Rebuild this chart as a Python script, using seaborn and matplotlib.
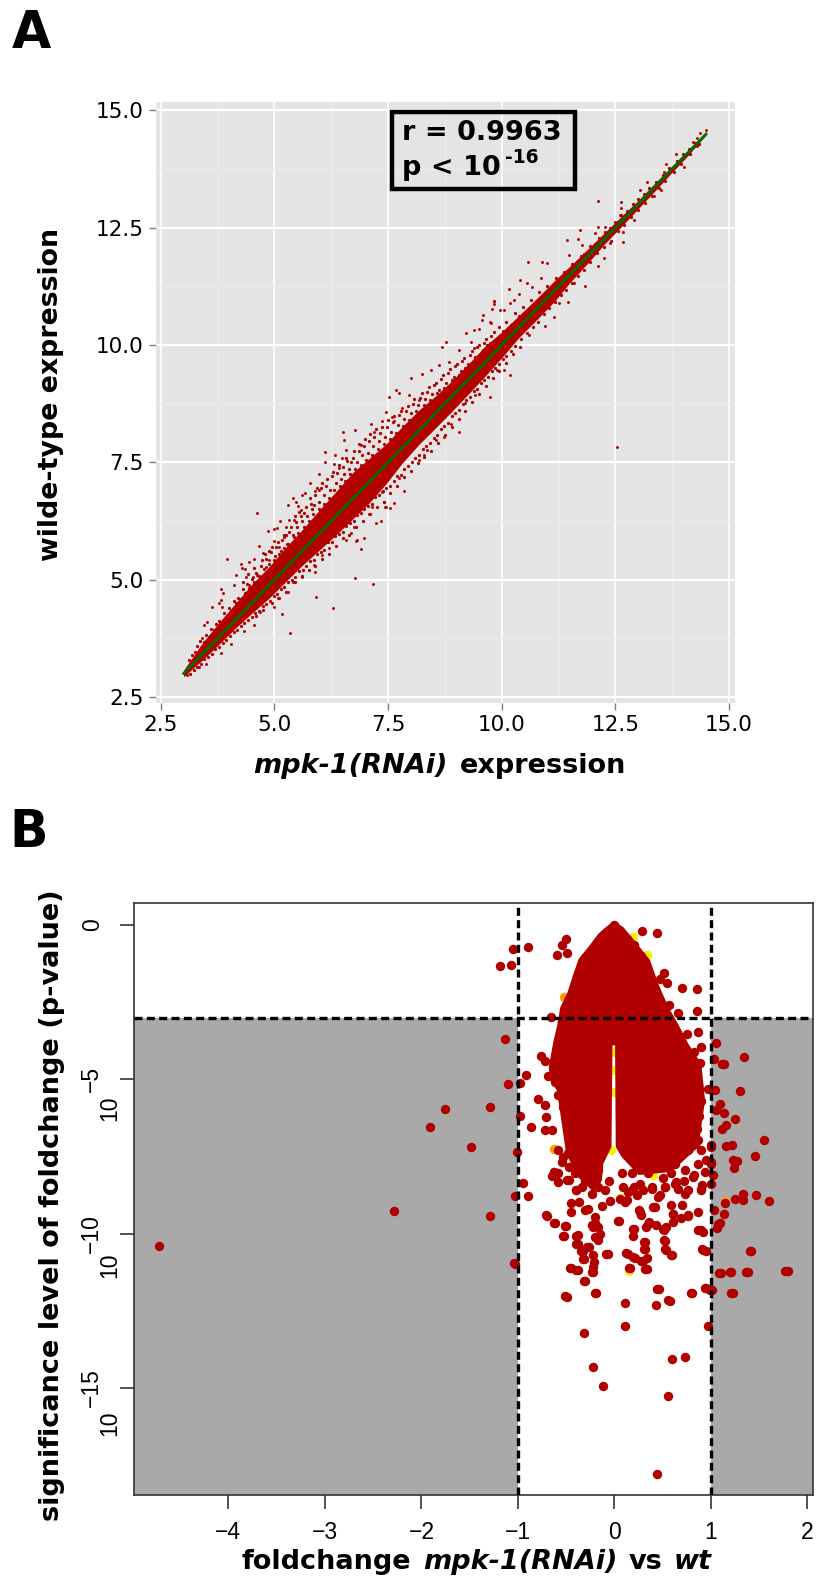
import seaborn as sns
import matplotlib.pyplot as plt
from matplotlib.patches import Rectangle

W, H = 816, 1578

# panel A - solid core of the band read as upper / lower edge, the loose points one by one
band_x = [3.0, 3.42, 3.8, 4.155, 4.5, 4.886, 5.25, 5.617, 6.0, 6.348, 6.71, 7.08, 7.445, 7.8, 8.176, 8.55,
          8.907, 9.27, 9.638, 10.0, 10.37, 10.8, 11.17, 11.5, 11.9, 12.25, 12.63, 13.0, 13.36, 13.7, 14.1, 14.5]
band_upper = [3.07, 3.66, 4.11, 4.51, 4.9, 5.28, 5.69, 6.07, 6.5, 6.87, 7.27, 7.58, 7.88, 8.25, 8.61, 8.92,
              9.24, 9.6, 9.98, 10.28, 10.62, 11.02, 11.38, 11.68, 12.05, 12.38, 12.74, 13.08, 13.44, 13.77, 14.15, 14.52]
band_lower = [2.93, 3.29, 3.64, 3.98, 4.28, 4.61, 4.96, 5.31, 5.64, 5.95, 6.28, 6.63, 7.03, 7.47, 7.88, 8.24,
              8.59, 8.96, 9.34, 9.73, 10.15, 10.57, 10.94, 11.33, 11.75, 12.14, 12.52, 12.9, 13.27, 13.63, 14.04, 14.48]
fit_x = [3.0, 14.5]
fit_y = [3.0, 14.5]

a_x = [4.62, 3.95, 4.16, 3.83, 3.86, 4.10, 3.62, 3.77, 3.83, 3.85, 3.45, 3.52, 3.4, 4.26, 4.29, 4.36, 4.45, 4.54,
       4.65, 4.75, 4.85, 4.99, 5.13, 4.98, 5.05, 5.29, 5.41, 5.6, 5.79, 5.98, 5.68, 5.89, 5.98, 5.47, 5.52, 5.58,
       5.43, 5.32, 5.25, 5.22, 5.1, 4.89, 4.81, 4.52, 4.37, 4.45,
       6.77, 7.16, 5.92, 6.28, 5.16, 5.35, 6.91, 6.97, 7.34, 7.23, 7.55, 7.44, 7.41, 6.82, 6.79, 6.57, 6.68, 6.75,
       7.07, 6.21, 6.05, 5.87, 5.89, 5.6, 5.4, 5.29, 5.07, 5.0, 4.69, 4.56, 4.32, 4.05, 3.83, 3.5, 3.35, 3.07,
       7.68, 8.01, 7.51, 7.74, 8.25, 8.44, 8.63, 8.68, 8.77, 8.83, 9.05, 9.21, 9.4, 9.49, 9.58, 9.84, 9.57, 9.97,
       9.76, 9.32, 9.38, 8.18, 7.96, 7.81, 7.45, 7.37, 7.12, 6.78, 6.5, 6.53, 6.57, 6.11, 6.33, 6.11, 6.3, 6.9,
       7.19, 7.59, 7.63, 6.49, 6.42,
       10.19, 10.05, 9.75, 9.07, 8.72, 8.89, 7.85, 7.62, 7.45, 7.74, 8.19, 8.29, 8.36, 8.56, 9.2, 9.42, 9.89,
       10.59, 7.15, 7.37,
       14.5, 14.37, 14.3, 14.2, 14.3, 14.15, 14.02, 13.84, 13.62, 13.57, 13.51, 13.2, 13.05, 13.35, 12.11, 12.63,
       12.62, 12.6, 12.9, 12.66, 12.66, 11.72, 12.12, 12.27, 11.43, 11.67, 12.05, 12.39, 12.26, 12.12, 11.84,
       10.57, 10.89, 11.0, 11.49, 11.76, 11.45, 11.6, 11.25, 11.14, 10.95, 10.86, 10.4, 10.15, 10.55, 10.66,
       10.37, 9.83, 9.82, 9.78, 10.04, 10.19, 10.26, 9.75, 12.54]
a_y = [6.43, 5.45, 5.09, 4.81, 4.72, 4.88, 4.42, 4.51, 4.57, 4.41, 4.04, 4.1, 3.75, 5.33, 5.24, 5.22, 5.37, 5.45,
       5.71, 5.56, 6.04, 5.82, 6.25, 6.08, 6.11, 6.59, 6.74, 6.8, 7.07, 7.25, 6.85, 6.89, 6.92, 6.66, 6.57, 6.48,
       6.27, 6.27, 6.13, 5.91, 5.7, 5.42, 5.28, 5.06, 5.06, 4.88,
       5.03, 4.9, 4.64, 4.4, 4.27, 3.87, 5.66, 5.89, 6.25, 6.2, 6.52, 6.54, 6.65, 5.84, 5.82, 5.84, 6.0, 6.13,
       6.4, 5.67, 5.52, 5.31, 5.17, 5.05, 4.96, 4.74, 4.6, 4.42, 4.32, 4.03, 3.9, 3.64, 3.43, 3.2, 3.13, 2.97,
       9.04, 9.29, 8.89, 8.97, 9.39, 9.47, 9.57, 9.96, 10.06, 9.64, 9.89, 10.26, 10.32, 10.35, 10.64, 10.94, 10.53,
       10.74, 10.46, 10.06, 9.93, 8.83, 8.93, 8.65, 8.58, 8.37, 8.32, 8.18, 8.14, 7.98, 7.76, 7.71, 7.66, 7.5, 7.47,
       7.87, 8.15, 8.47, 8.37, 7.59, 7.37,
       9.37, 9.47, 8.89, 8.15, 8.04, 8.32, 6.88, 6.64, 6.55, 7.16, 7.54, 7.66, 7.76, 7.98, 8.76, 8.93, 9.47,
       10.21, 6.55, 6.87,
       14.58, 14.51, 14.4, 14.33, 14.24, 14.06, 13.8, 14.06, 13.85, 13.69, 13.3, 13.48, 13.3, 13.17, 13.07, 13.05,
       12.91, 12.77, 12.66, 12.4, 12.2, 12.44, 12.52, 12.52, 12.24, 12.26, 12.38, 12.18, 11.85, 11.68, 11.26,
       11.77, 11.77, 11.74, 11.92, 12.13, 10.92, 11.31, 10.89, 10.6, 10.4, 11.42, 11.38, 11.2, 11.31, 11.24,
       11.08, 10.94, 10.87, 10.77, 10.75, 10.9, 10.96, 10.5, 7.82]

# fringe of the band, estimated along both sides
fringe_upper = [(3.12, 3.28), (3.18, 3.4), (3.25, 3.45), (3.3, 3.58), (3.37, 3.7), (3.44, 3.68), (3.5, 3.82),
                (3.55, 3.78), (3.6, 3.95), (3.66, 3.93), (3.72, 4.05), (3.78, 4.12), (3.84, 4.08), (3.9, 4.28),
                (3.96, 4.22), (4.0, 4.4), (4.05, 4.33), (4.1, 4.55), (4.15, 4.5), (4.2, 4.62), (4.25, 4.58),
                (4.3, 4.8), (4.35, 4.72), (4.4, 4.9), (4.45, 4.83), (4.5, 5.02), (4.55, 4.95), (4.6, 5.15),
                (4.66, 5.08), (4.7, 5.3), (4.76, 5.22), (4.82, 5.45), (4.88, 5.33), (4.93, 5.6), (5.0, 5.42),
                (5.04, 5.7), (5.1, 5.55), (5.16, 5.85), (5.2, 5.68), (5.26, 5.95), (5.3, 5.75), (5.36, 6.12),
                (5.42, 5.9), (5.47, 6.22), (5.52, 6.0), (5.58, 6.35), (5.64, 6.12), (5.7, 6.55), (5.75, 6.25),
                (5.8, 6.62), (5.85, 6.4), (5.9, 6.8), (5.97, 6.5), (6.02, 6.95), (6.08, 6.62), (6.13, 7.0),
                (6.2, 6.75), (6.26, 7.2), (6.32, 6.9), (6.38, 7.28), (6.44, 7.0), (6.5, 7.4), (6.55, 7.1),
                (6.6, 7.52), (6.66, 7.25), (6.72, 7.6), (6.78, 7.35), (6.85, 7.75), (6.9, 7.45), (6.96, 7.85),
                (7.02, 7.55), (7.08, 7.95), (7.14, 7.65), (7.2, 8.05), (7.27, 7.78), (7.33, 8.12), (7.4, 7.9),
                (7.47, 8.25), (7.54, 8.0), (7.6, 8.35), (7.68, 8.12), (7.75, 8.5), (7.82, 8.28), (7.9, 8.6),
                (7.97, 8.4), (8.05, 8.75), (8.12, 8.6), (8.2, 8.88), (8.28, 8.72), (8.35, 9.0), (8.43, 8.82),
                (8.5, 9.15), (8.58, 8.98), (8.66, 9.28), (8.74, 9.08), (8.82, 9.4), (8.9, 9.25), (8.98, 9.55),
                (9.05, 9.35), (9.13, 9.65), (9.2, 9.52), (9.3, 9.78), (9.38, 9.62), (9.45, 9.95), (9.53, 9.78),
                (9.6, 10.05), (9.68, 10.0), (9.76, 10.2), (9.85, 10.1), (9.93, 10.38), (10.02, 10.3), (10.1, 10.5),
                (10.2, 10.42), (10.3, 10.68), (10.38, 10.62), (10.47, 10.8), (10.56, 10.72), (10.65, 10.95),
                (10.75, 10.88), (10.83, 11.12), (10.92, 11.05), (11.0, 11.25), (11.1, 11.22), (11.2, 11.42),
                (11.28, 11.4), (11.36, 11.55), (11.45, 11.56), (11.55, 11.72), (11.65, 11.76), (11.75, 11.9),
                (11.82, 11.94), (11.95, 12.1), (12.05, 12.16), (12.15, 12.28), (12.28, 12.4), (12.38, 12.5),
                (12.5, 12.63), (12.62, 12.76), (12.75, 12.86), (12.88, 13.0), (13.0, 13.1), (13.12, 13.22),
                (13.25, 13.34), (13.4, 13.48), (13.55, 13.62), (13.68, 13.78), (13.85, 13.92), (13.98, 14.06),
                (14.12, 14.18), (14.25, 14.3)]
fringe_upper2 = [(4.3, 4.95), (4.42, 5.12), (4.55, 5.25), (4.62, 5.1), (4.72, 5.42), (4.8, 5.55), (4.87, 5.62),
                 (4.95, 5.7), (5.02, 5.5), (5.08, 5.8), (5.14, 5.62), (5.2, 5.95), (5.27, 5.75), (5.33, 6.02),
                 (5.4, 5.95), (5.45, 6.35), (5.5, 6.12), (5.55, 6.45), (5.6, 6.25), (5.66, 6.42), (5.72, 6.35),
                 (5.78, 6.75), (5.83, 6.5), (5.88, 6.6), (5.93, 6.95), (5.99, 6.65), (6.05, 7.05), (6.1, 6.8),
                 (6.16, 7.15), (6.22, 6.9), (6.29, 7.3), (6.35, 7.05), (6.41, 7.45), (6.47, 7.15), (6.53, 7.25),
                 (6.58, 7.6), (6.63, 7.35), (6.69, 7.5), (6.75, 7.75), (6.81, 7.5), (6.87, 7.9), (6.93, 7.65),
                 (6.99, 8.0), (7.05, 7.7), (7.11, 8.1), (7.17, 7.85), (7.24, 8.2), (7.3, 7.95), (7.36, 8.25),
                 (7.43, 8.05), (7.5, 8.4), (7.57, 8.15), (7.64, 8.48), (7.71, 8.3), (7.79, 8.6), (7.86, 8.42),
                 (7.93, 8.7), (8.0, 8.55), (8.08, 8.85), (8.16, 8.72), (8.24, 8.98), (8.32, 8.85), (8.4, 9.1),
                 (8.47, 8.95), (8.55, 9.2), (8.62, 9.05), (8.7, 9.35), (8.78, 9.2), (8.86, 9.48), (8.94, 9.32),
                 (9.02, 9.6), (9.1, 9.45), (9.18, 9.72), (9.26, 9.6), (9.34, 9.88), (9.42, 9.75), (9.5, 10.0),
                 (9.58, 9.9), (9.66, 10.12), (9.74, 10.05), (9.82, 10.28)]
fringe_lower = [(3.14, 3.0), (3.22, 3.08), (3.3, 3.14), (3.38, 3.2), (3.46, 3.3), (3.54, 3.36), (3.62, 3.42),
                (3.7, 3.52), (3.78, 3.56), (3.86, 3.66), (3.94, 3.72), (4.02, 3.8), (4.1, 3.88), (4.18, 3.92),
                (4.26, 4.02), (4.34, 4.08), (4.42, 4.14), (4.5, 4.2), (4.58, 4.3), (4.66, 4.34), (4.74, 4.44),
                (4.82, 4.48), (4.9, 4.55), (4.98, 4.65), (5.06, 4.7), (5.14, 4.8), (5.22, 4.84), (5.3, 4.95),
                (5.38, 5.0), (5.46, 5.06), (5.54, 5.18), (5.62, 5.2), (5.7, 5.3), (5.78, 5.4), (5.86, 5.42),
                (5.94, 5.55), (6.02, 5.6), (6.1, 5.64), (6.18, 5.8), (6.26, 5.8), (6.34, 5.92), (6.42, 5.98),
                (6.5, 6.02), (6.58, 6.15), (6.66, 6.2), (6.74, 6.24), (6.82, 6.38), (6.9, 6.42), (6.98, 6.5),
                (7.06, 6.58), (7.14, 6.62), (7.22, 6.76), (7.3, 6.8), (7.38, 6.88), (7.46, 6.95), (7.54, 7.0),
                (7.62, 7.1), (7.7, 7.2), (7.78, 7.22), (7.86, 7.36), (7.94, 7.42), (8.02, 7.5), (8.1, 7.6),
                (8.18, 7.65), (8.26, 7.78), (8.34, 7.84), (8.42, 7.92), (8.5, 8.02), (8.58, 8.08), (8.66, 8.2),
                (8.74, 8.28), (8.82, 8.34), (8.9, 8.48), (8.98, 8.55), (9.06, 8.62), (9.14, 8.75), (9.22, 8.82),
                (9.3, 8.9), (9.38, 9.02), (9.46, 9.06), (9.54, 9.18), (9.62, 9.25), (9.7, 9.32), (9.78, 9.45),
                (9.86, 9.5), (9.94, 9.6), (10.02, 9.7), (10.1, 9.76), (10.2, 9.88), (10.3, 9.98), (10.42, 10.12),
                (10.55, 10.25), (10.68, 10.38), (10.8, 10.5), (10.92, 10.66), (11.05, 10.78), (11.18, 10.92),
                (11.3, 11.06), (11.42, 11.18), (11.55, 11.32), (11.68, 11.46), (11.8, 11.6), (11.95, 11.76),
                (12.1, 11.95), (12.25, 12.08), (12.4, 12.22), (12.55, 12.42), (12.7, 12.55), (12.85, 12.72),
                (13.0, 12.88), (13.15, 13.02), (13.3, 13.18), (13.45, 13.35), (13.6, 13.5), (13.78, 13.68),
                (13.95, 13.86), (14.15, 14.06), (14.35, 14.28)]
fringe_lower2 = [(4.6, 4.22), (4.75, 4.36), (4.95, 4.5), (5.1, 4.62), (5.25, 4.74), (5.45, 4.95), (5.6, 5.08),
                 (5.75, 5.2), (5.9, 5.3), (6.05, 5.45), (6.2, 5.55), (6.35, 5.72), (6.5, 5.88), (6.65, 5.95),
                 (6.8, 6.12), (6.95, 6.25), (7.1, 6.4), (7.25, 6.55), (7.4, 6.65), (7.55, 6.85), (7.7, 7.0),
                 (7.85, 7.18), (8.0, 7.32), (8.15, 7.48), (8.3, 7.62), (8.45, 7.75), (8.6, 7.92), (8.75, 8.08),
                 (8.9, 8.25), (9.05, 8.42), (9.2, 8.6), (9.35, 8.78), (9.5, 8.95), (9.65, 9.12), (9.8, 9.3),
                 (9.95, 9.45), (10.1, 9.62), (10.25, 9.8), (10.4, 9.95)]

# panel B - solid dome outline, then the separate points
dome_x = [-.01, -.11, -.166, -.27, -.37, -.424, -.49, -.56, -.596, -.63, -.68, -.665, -.596, -.56, -.53, -.5,
          -.38, -.2, -.13, -.114, -.03, -.02, .007, .014, .076, .25, .59, .87, .90, .94, .90, .765, .66, .56,
          .455, .37, .21, .09]
dome_y = [.13, -.12, -.28, -.71, -1.09, -1.58, -2.22, -2.66, -3.3, -3.74, -4.6, -5.03, -5.36, -6.11, -6.76, -7.41,
          -8.16, -8.7, -8.27, -7.73, -7.19, -3.9, -3.9, -7.19, -7.52, -8.1, -8.0, -7.19, -6.54, -5.68, -4.49,
          -3.84, -3.2, -2.66, -1.9, -1.14, -.5, -.06]
rim_pts = [(0, 0), (-.06, -.2), (-.12, -.45), (-.2, -.8), (-.28, -1.0), (-.33, -1.3), (-.37, -1.65), (-.42, -2.1),
           (-.47, -2.4), (-.51, -2.8), (-.54, -3.3), (-.57, -3.8), (-.6, -4.3), (-.63, -4.7), (-.62, -5.1),
           (-.58, -5.5), (-.53, -5.9), (-.5, -6.3), (-.44, -6.7), (-.42, -7.2), (-.36, -7.6), (-.28, -8.1), (-.2, -8.4),
           (.06, -.2), (.13, -.45), (.2, -.65), (.28, -1.0), (.33, -1.4), (.38, -1.75), (.42, -2.1), (.47, -2.5),
           (.53, -2.9), (.6, -3.3), (.65, -3.65), (.72, -4.0), (.8, -4.4), (.86, -4.8), (.88, -5.3), (.9, -5.7),
           (.88, -6.2), (.86, -6.6), (.84, -7.1)]
lobe_pts = [(-.63, -8.0), (-.58, -8.05), (-.65, -8.14), (-.545, -7.68), (-.49, -8.27), (-.41, -8.05), (-.40, -8.59),
            (-.34, -8.49), (-.235, -8.7), (-.166, -8.49), (-.097, -8.59), (-.06, -8.29), (.075, -8.05), (.09, -8.49),
            (.127, -8.92), (.18, -8.59), (.23, -8.76), (.265, -8.38), (.385, -8.54), (.47, -8.76), (.52, -8.49),
            (.59, -8.05), (.64, -8.32), (.66, -8.54), (.765, -8.57), (.83, -8.11), (.90, -8.54), (.94, -8.0),
            (.87, -7.73), (1.0, -7.14), (1.0, -7.68), (.91, -8.43), (-.58, -7.3), (-.475, -7.84), (-.53, -7.51),
            (.63, -7.73), (.35, -8.05), (.18, -8.05), (-.166, -7.95), (-.34, -7.95), (.73, -7.95), (.765, -7.3),
            (.9, -7.3), (.87, -6.97), (.72, -8.3), (.5, -8.2), (.3, -8.6), (-.3, -8.3), (-.48, -7.4), (.95, -7.6)]

b_x = [.29, .44, -.50, -.54, -.59, -.49, -.90, -1.05, -1.07, -1.19, .51, .47, .55, .70, .86, .86, .66, .57, -.655,
       -1.13, -.76, -.72, -.92, -.975, -1.10, -.69, -.79, -.72, -.975, -.865, -.71, -.72, -.65, -1.01, 1.05, 1.34,
       1.14, 1.11, 1.03, 1.30, 1.09, 1.14, 1.05, 1.25, 1.16, 1.12, 1.22, 1.16, 1.23, 1.27, 1.24, -.95, -.90, -1.03,
       1.33, 1.25, 1.33, 1.15, 1.03, 1.14, -.71, -.63, -.51, -.45, -.45, .04, 1.07, 1.0, 1.02, 1.0, 1.0, .90, .87,
       .75, .83, .885, .87, 1.04, .97, -.63, -.58, -.475, -.40, -.37, -.30, -.13, -.05, -.20, -.20, -.235, .11, .25,
       .42, .28, .59, .61, .70, .765, .87, .35, .20, .455, .73, .90, .52, .63, .815, .145, .06, .20, .385, .505,
       -.53, -.40, -.40, -.28, -.345, -.33, -.22, -.21, -.22, -.23, -.46, -.40, -.31, -.51, -.20, .045, .19, .19,
       .31, .31, .12, .19, -.09, .34, .28, .32, .15, .51, .52, .585, .44, .56, .79, .94, .995, 1.21, .91, .95,
       1.405, 1.08, 1.20, 1.36, 1.77, -1.04, 1.55, 1.46, 1.47, 1.60, 1.06, 1.09, .87, .92, .765, .69, .61, .54,
       .51, .36, .33, .43, .61, .40, .265, -.27, -.22, -.166, -.15, -.20, -.166,
       -4.72, -2.28, -1.29, -1.03, 1.80, 1.42, 1.38, 1.21, 1.10, 1.23, 1.01, .95, .965, .46, .80, .58, .43, .11,
       -.19, -.49, .11, -.31, .60, .73, -.22, -.12, .56, .44, -.30, -.70, -.62, -.50, -.52, -.38, -.38, -.33,
       -.26, -.32, -.45, -.38, -.22, -.07, .14, .21, .30, .335, .16, .32, .32, .52, .53, .60, .92, .90,
       -1.29, -1.91, -1.76, -1.49]
b_y = [-.19, -.25, -.45, -.63, -.97, -.91, -.72, -.78, -1.3, -1.34, -1.55, -1.74, -1.88, -2.03, -2.07, -2.79, -2.85,
       -2.58, -2.98, -3.69, -4.24, -4.41, -4.86, -5.11, -5.15, -4.9, -5.63, -5.84, -6.2, -6.54, -6.22, -6.64, -6.65,
       -7.35, -3.82, -4.28, -4.51, -4.51, -4.34, -5.37, -5.79, -6.09, -6.0, -6.27, -6.49, -6.62, -7.14, -7.16, -7.6,
       -7.64, -7.87, -8.35, -8.78, -8.78, -8.72, -8.89, -8.92, -9.0, -9.24, -9.37, -9.41, -9.64, -9.74, -9.31, -9.0,
       -9.59, -9.68, -8.38, -8.11, -7.73, -7.19, -3.95, -3.47, -3.52, -4.11, -4.46, -5.14, -5.36, -5.3, -8.0, -8.33,
       -8.27, -8.6, -8.97, -9.24, -9.11, -8.94, -9.46, -9.67, -9.73, -8.97, -9.24, -9.14, -9.41, -9.08, -9.35, -9.08,
       -9.41, -9.3, -9.68, -9.84, -8.81, -8.7, -8.6, -8.49, -8.38, -8.16, -8.65, -8.87, -8.49, -8.49, -9.84,
       -10.08, -10.06, -10.32, -10.44, -10.56, -10.82, -10.68, -10.92, -11.08, -11.24, -11.1, -11.19, -11.53, -12.02,
       -11.91, -9.59, -9.86, -10.07, -10.27, -10.5, -10.63, -10.75, -10.66, -10.79, -10.89, -11.15, -11.11, -10.21,
       -10.5, -10.7, -11.79, -12.14, -11.91, -11.75, -11.83, -11.91, -10.5, -10.56, -10.55, -11.28, -11.24, -11.23,
       -11.22, -10.96, -6.97, -7.47, -8.76, -8.93, -9.81, -9.67, -9.87, -9.94, -9.43, -9.48, -9.62, -9.78, -9.89,
       -9.63, -9.78, -9.73, -9.35, -9.13, -9.3, -9.19, -9.78, -9.78, -10.0, -10.1, -10.19,
       -10.41, -9.25, -9.42, -10.97, -11.22, -10.55, -11.23, -11.24, -11.28, -11.91, -11.84, -11.75, -13.0, -11.8,
       -11.91, -12.17, -12.32, -12.26, -11.91, -12.04, -12.98, -13.21, -14.05, -14.0, -14.33, -14.95, -15.26, -17.78,
       -11.54, -9.42, -9.64, -9.75, -10.09, -10.05, -10.32, -10.56, -10.43, -10.82, -11.11, -11.19, -11.24, -10.66,
       -10.65, -10.78, -10.9, -11.16, -11.12, -10.51, -10.27, -10.24, -10.53, -10.7, -10.52, -9.89,
       -5.9, -6.55, -5.95, -7.2]

yellow_x = [-.01, -.01, -.005, .34, .19, -.03, .40, .06, .15]
yellow_y = [-4.1, -4.7, -5.4, -.98, -.39, -7.3, -8.11, -8.85, -11.2]
orange_x = [-.52, .63, .78, -.63, .80, 1.15, .01]
orange_y = [-2.33, -3.74, -5.9, -7.25, -6.65, -8.95, -.02]

b_xticks = [-4, -3, -2, -1, 0, 1, 2]
b_xlabels = ['\u22124', '\u22123', '\u22122', '\u22121', '0', '1', '2']
b_yticks = [0, -5, -10, -15]
b_exponents = ['\u22125', '\u221210', '\u221215']

RED = '#b30000'


def axes_box(left, top, right, bottom):
    return [left / W, 1 - bottom / H, (right - left) / W, (bottom - top) / H]


def put(x, y, s, **kw):
    # place text by pixel position on the page
    fig.text(x / W, 1 - y / H, s, **kw)


sns.set_theme(style='darkgrid')
plt.rcParams['font.family'] = ['DejaVu Sans']
plt.rcParams['text.color'] = 'black'

fig = plt.figure(figsize=(W / 100, H / 100), dpi=100, facecolor='white')

# ---- panel A
ax = fig.add_axes(axes_box(156.1, 101.7, 734.7, 702.7))
ax.set_facecolor('#e4e4e4')
ax.fill_between(band_x, band_lower, band_upper, color=RED, linewidth=0, zorder=3)
sns.scatterplot(x=a_x, y=a_y, ax=ax, color=RED, s=4.5, linewidth=0, zorder=3)
for pts in (fringe_upper, fringe_upper2, fringe_lower, fringe_lower2):
    sns.scatterplot(x=[p[0] for p in pts], y=[p[1] for p in pts], ax=ax, color=RED, s=5.5, linewidth=0, zorder=3)
sns.lineplot(x=fit_x, y=fit_y, ax=ax, color='#006e00', linewidth=2.0, zorder=4)
ax.set_xlim(2.397, 15.125)
ax.set_ylim(2.379, 15.183)
major = [2.5, 5, 7.5, 10, 12.5, 15]
minor = [3.75, 6.25, 8.75, 11.25, 13.75]
ax.set_xticks(major)
ax.set_yticks(major)
ax.set_xticks(minor, minor=True)
ax.set_yticks(minor, minor=True)
ax.set_xticklabels(['2.5', '5.0', '7.5', '10.0', '12.5', '15.0'])
ax.set_yticklabels(['2.5', '5.0', '7.5', '10.0', '12.5', '15.0'])
ax.grid(which='major', axis='x', color='white', linewidth=1.2)
ax.grid(which='major', axis='y', color='white', linewidth=1.6)
ax.grid(which='minor', color='#ebebeb', linewidth=0.9)
ax.tick_params(which='major', length=5, width=1, color='#7f7f7f', labelsize=15.5, labelcolor='black',
               bottom=True, left=True, pad=4)
ax.tick_params(which='minor', length=0)
for s in ax.spines.values():
    s.set_visible(False)

fig.add_artist(Rectangle((392 / W, 1 - 188.5 / H), 183 / W, 76 / H, transform=fig.transFigure,
                         fill=False, edgecolor='black', linewidth=3.2, zorder=10))
put(402, 133, 'r = 0.9963', fontsize=19.5, fontweight='bold', va='center', ha='left', zorder=11)
put(402, 175, 'p < 10', fontsize=19.5, fontweight='bold', va='baseline', ha='left', zorder=11)
put(505, 163, '-16', fontsize=13.5, fontweight='bold', va='baseline', ha='left', zorder=11)

put(51, 394, 'wilde-type expression', fontsize=19.3, fontweight='bold', rotation=90, va='center', ha='center')
put(253.5, 766, 'mpk-1(RNAi)', fontsize=19.5, fontweight='bold', style='italic', va='center', ha='left')
put(626.5, 766, 'expression', fontsize=19.5, fontweight='bold', va='center', ha='right')

# ---- panel B
bx = fig.add_axes(axes_box(133.7, 902.7, 812.7, 1495))
bx.set_facecolor('white')
bx.grid(False)
bx.set_xlim(-4.981, 2.055)
bx.set_ylim(-18.47, 0.726)
bx.axvspan(-4.981, -1, ymax=(-3 + 18.47) / (18.47 + 0.726), color='#a9a9a9', linewidth=0, zorder=1)
bx.axvspan(1, 2.055, ymax=(-3 + 18.47) / (18.47 + 0.726), color='#a9a9a9', linewidth=0, zorder=1)

sns.scatterplot(x=yellow_x, y=yellow_y, ax=bx, color='#ffee00', s=46, linewidth=0, zorder=2)
sns.scatterplot(x=orange_x, y=orange_y, ax=bx, color='#ffa000', s=46, linewidth=0, zorder=2)
bx.fill(dome_x, dome_y, color='#b00000', linewidth=0, zorder=3)
sns.scatterplot(x=b_x, y=b_y, ax=bx, color='#b00000', s=46, linewidth=0, zorder=3)
for pts in (rim_pts, lobe_pts):
    sns.scatterplot(x=[p[0] for p in pts], y=[p[1] for p in pts], ax=bx, color='#b00000', s=46, linewidth=0, zorder=3)

for v in (-1, 1):
    bx.axvline(v, color='black', linewidth=2.4, dashes=(2.4, 1.3), zorder=5)
bx.axhline(-3, color='black', linewidth=2.4, dashes=(2.4, 1.3), zorder=5)

bx.set_xticks(b_xticks)
bx.set_xticklabels(b_xlabels, family='Liberation Sans', fontsize=16.5)
bx.set_yticks(b_yticks)
bx.set_yticklabels([])
bx.tick_params(axis='both', length=10, width=1.1, color='#222222', labelcolor='black', pad=9, bottom=True, left=True)
for s in bx.spines.values():
    s.set_visible(True)
    s.set_color('#333333')
    s.set_linewidth(1.2)

# R style rotated exponent labels
ytr = bx.get_yaxis_transform()
txt = dict(xycoords=ytr, textcoords='offset pixels', rotation=90, va='center', ha='center',
           family='Liberation Sans', fontsize=16.5, annotation_clip=False)
bx.annotate('0', (0, b_yticks[0]), xytext=(-41, 0), **txt)
for v, e, shift in zip(b_yticks[1:], b_exponents, [-29, -32, -35]):
    bx.annotate(e, (0, v), xytext=(-42, 0), **txt)
    bx.annotate('10', (0, v), xytext=(-24, shift), **txt)

put(52, 1205, 'significance level of foldchange (p-value)', fontsize=19.5, fontweight='bold', rotation=90,
    va='center', ha='center')
put(241, 1562, 'foldchange', fontsize=19.5, fontweight='bold', va='center', ha='left')
put(423, 1562, 'mpk-1(RNAi)', fontsize=19.5, fontweight='bold', style='italic', va='center', ha='left')
put(628.5, 1562, 'vs', fontsize=19.5, fontweight='bold', va='center', ha='left')
put(674, 1562, 'wt', fontsize=19.5, fontweight='bold', style='italic', va='center', ha='left')

put(12, 48, 'A', fontsize=36.5, fontweight='bold', va='baseline', ha='left')
put(9, 847, 'B', fontsize=36.5, fontweight='bold', va='baseline', ha='left')

plt.savefig('out.png', dpi=100)
